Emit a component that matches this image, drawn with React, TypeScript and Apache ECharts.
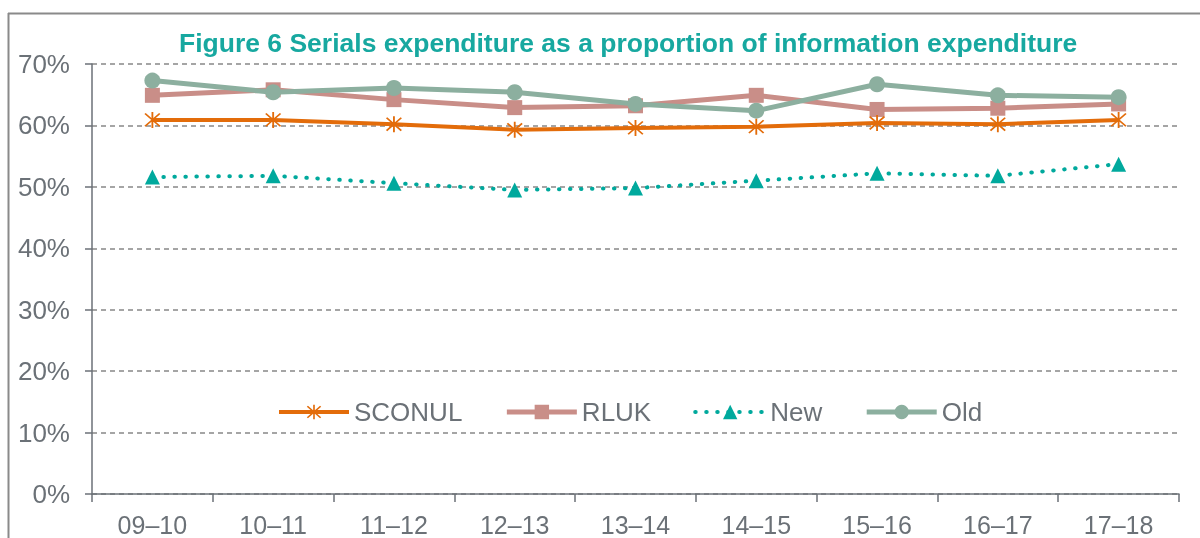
import React, { useEffect, useRef } from "react";
import * as echarts from "echarts";

const categories = ["09–10", "10–11", "11–12", "12–13", "13–14", "14–15", "15–16", "16–17", "17–18"];
const sconul = [60.9, 60.9, 60.2, 59.3, 59.6, 59.8, 60.4, 60.2, 60.9];
const rluk = [64.9, 65.8, 64.2, 62.9, 63.2, 64.9, 62.6, 62.8, 63.5];
const newer = [51.6, 51.8, 50.6, 49.5, 49.8, 51.0, 52.2, 51.8, 53.7];
const older = [67.3, 65.4, 66.1, 65.4, 63.5, 62.4, 66.7, 64.9, 64.6];
const yTicks = { min: 0, max: 70, interval: 10 };
const titleText = "Figure 6 Serials expenditure as a proportion of information expenditure";

const asterisk =
  "path://M9 0 L11 0 L11 20 L9 20 Z M2.7 1.3 L18.7 17.3 L17.3 18.7 L1.3 2.7 Z M17.3 1.3 L18.7 2.7 L2.7 18.7 L1.3 17.3 Z";

const FONT = "Liberation Sans, Arial, sans-serif";
const GREY = "#6b7177";
const C_SCONUL = "#e36c0a";
const C_RLUK = "#c98e88";
const C_NEW = "#00a99d";
const C_OLD = "#8caf9f";

export default function App() {
  const ref = useRef<HTMLDivElement>(null);
  useEffect(() => {
    const chart = echarts.init(ref.current!, null, { renderer: "svg" });
    chart.setOption({
      animation: false,
      textStyle: { fontFamily: FONT },
      title: {
        text: titleText,
        left: 174,
        top: 24,
        textStyle: { color: "#17a8a0", fontSize: 26.5, fontWeight: "bold", fontFamily: FONT },
      },
      graphic: [
        { type: "line", shape: { x1: 8.5, y1: 13, x2: 8.5, y2: 538 }, style: { stroke: "#8a8a8a", lineWidth: 2 } },
        { type: "line", shape: { x1: 8, y1: 13.5, x2: 1200, y2: 13.5 }, style: { stroke: "#8a8a8a", lineWidth: 2 } },
      ],
      legend: {
        top: 394,
        left: 272,
        itemWidth: 70,
        itemHeight: 18,
        itemGap: 42,
        textStyle: { color: GREY, fontSize: 26, fontFamily: FONT },
        data: [
          { name: "SCONUL", lineStyle: { width: 4 } },
          { name: "RLUK", lineStyle: { width: 5 } },
          { name: "New", lineStyle: { width: 4 } },
          { name: "Old", lineStyle: { width: 5 } },
        ],
      },
      grid: { left: 92, right: 21, top: 64, bottom: 44 },
      xAxis: {
        type: "category",
        data: categories,
        boundaryGap: true,
        axisLine: { lineStyle: { color: GREY, width: 1.5 } },
        axisTick: { show: true, length: 8, lineStyle: { color: GREY, width: 1.5 } },
        axisLabel: { color: GREY, fontSize: 25, margin: 18, fontFamily: FONT },
      },
      yAxis: {
        type: "value",
        min: yTicks.min,
        max: yTicks.max,
        interval: yTicks.interval,
        axisLine: { show: true, lineStyle: { color: GREY, width: 1.5 } },
        axisTick: { show: true, length: 7, lineStyle: { color: GREY, width: 1.5 } },
        axisLabel: { color: GREY, fontSize: 26, margin: 22, formatter: "{value}%", fontFamily: FONT },
        splitLine: { lineStyle: { color: "#888888", width: 1.5, type: [5, 4] } },
      },
      series: [
        {
          name: "SCONUL",
          type: "line",
          data: sconul,
          symbol: asterisk,
          symbolSize: 16,
          itemStyle: { color: C_SCONUL },
          lineStyle: { color: C_SCONUL, width: 4 },
          z: 4,
        },
        {
          name: "RLUK",
          type: "line",
          data: rluk,
          symbol: "rect",
          symbolSize: 15,
          itemStyle: { color: C_RLUK },
          lineStyle: { color: C_RLUK, width: 5 },
          z: 2,
        },
        {
          name: "New",
          type: "line",
          data: newer,
          symbol: "triangle",
          symbolSize: 15,
          itemStyle: { color: C_NEW },
          lineStyle: { color: C_NEW, width: 4, type: [0.5, 10.5], cap: "round" },
          z: 3,
        },
        {
          name: "Old",
          type: "line",
          data: older,
          symbol: "circle",
          symbolSize: 16,
          itemStyle: { color: C_OLD },
          lineStyle: { color: C_OLD, width: 5 },
          z: 3,
        },
      ],
    });
    return () => chart.dispose();
  }, []);
  return <div ref={ref} style={{ position: "fixed", left: 0, top: 0, width: 1200, height: 538 }} />;
}
